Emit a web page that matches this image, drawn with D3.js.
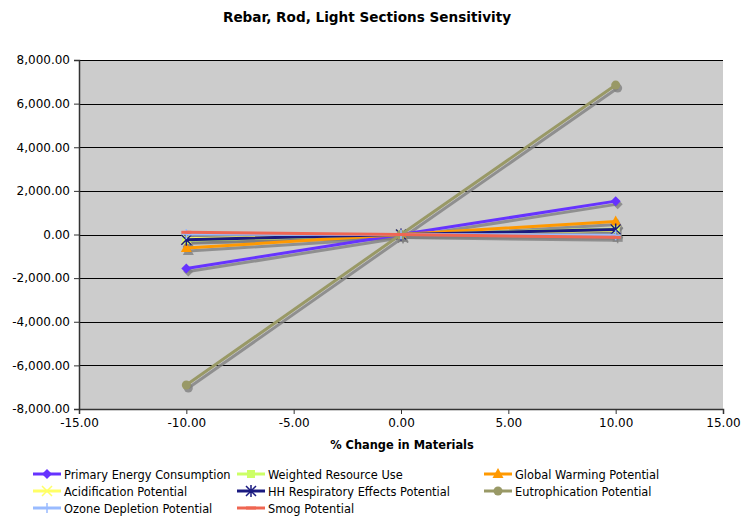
<!DOCTYPE html>
<html>
<head>
<meta charset="utf-8">
<script src="https://cdn.jsdelivr.net/npm/d3@7"></script>
<style>
  body { margin: 0; background: #fff; }
  svg { display: block; font-family: "DejaVu Sans", Verdana, sans-serif; }
</style>
</head>
<body>
<svg id="chart" width="741" height="517"></svg>
<script>
// Sensitivity of each impact category to a change in materials
const pctChange = [-10, 0, 10];
const seriesNames = [
  "Primary Energy Consumption", "Weighted Resource Use", "Global Warming Potential",
  "Acidification Potential", "HH Respiratory Effects Potential", "Eutrophication Potential",
  "Ozone Depletion Potential", "Smog Potential"
];
const primaryEnergy   = [-1560, 0, 1530];
const weightedResource = [-260, 0, 250];
const globalWarming   = [-620, 0, 600];
const acidification   = [-200, 0, 200];
const hhRespiratory   = [-240, 0, 230];
const eutrophication  = [-6900, 0, 6850];
const ozoneDepletion  = [20, 0, -30];
const smog            = [100, 0, -130];
const xTicks = [-15, -10, -5, 0, 5, 10, 15];
const yTicks = [-8000, -6000, -4000, -2000, 0, 2000, 4000, 6000, 8000];

const seriesValues = [primaryEnergy, weightedResource, globalWarming, acidification,
  hhRespiratory, eutrophication, ozoneDepletion, smog];
const colors = ["#6633ff", "#ccff66", "#ff9900", "#ffff66", "#1a1a80", "#999966", "#99bbff", "#ef6652"];
const markers = ["diamond", "square", "triangle", "x", "star", "circle", "plus", "dash"];

const FONT = "'DejaVu Sans', Verdana, sans-serif";
const svg = d3.select("#chart");
const plot = { left: 79, right: 723, top: 60, bottom: 409 };

const x = d3.scaleLinear().domain([-15, 15]).range([plot.left, plot.right]);
const y = d3.scaleLinear().domain([-8000, 8000]).range([plot.bottom, plot.top]);

// Title
svg.append("text").attr("x", 367).attr("y", 22).attr("text-anchor", "middle")
  .attr("font-size", 13.6).attr("font-weight", "bold").text("Rebar, Rod, Light Sections Sensitivity");

// Plot background
svg.append("rect").attr("x", plot.left).attr("y", plot.top)
  .attr("width", plot.right - plot.left).attr("height", plot.bottom - plot.top)
  .attr("fill", "#cccccc");

// Horizontal gridlines
svg.append("g").selectAll("line").data(yTicks).join("line")
  .attr("x1", plot.left).attr("x2", plot.right)
  .attr("y1", d => Math.round(y(d)) + 0.5).attr("y2", d => Math.round(y(d)) + 0.5)
  .attr("stroke", "#000").attr("stroke-width", 1);

// Axes (plain hyphen for negatives)
const base = d3.format(",.2f");
const fmt = d => (d < 0 ? "-" : "") + base(Math.abs(d));
const yAxis = svg.append("g").attr("transform", `translate(${plot.left},0)`)
  .call(d3.axisLeft(y).tickValues(yTicks).tickFormat(fmt).tickSize(5).tickPadding(4));
const xAxis = svg.append("g").attr("transform", `translate(0,${plot.bottom})`)
  .call(d3.axisBottom(x).tickValues(xTicks).tickFormat(fmt).tickSize(5).tickPadding(4));
[xAxis, yAxis].forEach(a => {
  a.select(".domain").attr("stroke", "#333").attr("stroke-width", 1.5);
  a.selectAll(".tick line").attr("stroke", "#333");
  a.selectAll("text").attr("font-size", 12).attr("fill", "#000").attr("font-family", FONT);
});

svg.append("text").attr("x", 402).attr("y", 449).attr("text-anchor", "middle")
  .attr("font-size", 11.4).attr("font-weight", "bold").text("% Change in Materials");

// Marker drawing
function drawMarker(g, type, cx, cy, color) {
  const s = 5;
  switch (type) {
    case "diamond":
      g.append("path").attr("d", `M${cx},${cy - s}L${cx + s},${cy}L${cx},${cy + s}L${cx - s},${cy}Z`).attr("fill", color);
      break;
    case "square":
      g.append("rect").attr("x", cx - 4).attr("y", cy - 4).attr("width", 8).attr("height", 8).attr("fill", color);
      break;
    case "triangle":
      g.append("path").attr("d", `M${cx},${cy - 6}L${cx + 5.5},${cy + 4}L${cx - 5.5},${cy + 4}Z`).attr("fill", color);
      break;
    case "circle":
      g.append("circle").attr("cx", cx).attr("cy", cy).attr("r", 4.5).attr("fill", color);
      break;
    case "x":
      g.append("path").attr("d", `M${cx - 5},${cy - 5}L${cx + 5},${cy + 5}M${cx - 5},${cy + 5}L${cx + 5},${cy - 5}`)
        .attr("stroke", color).attr("stroke-width", 1.5);
      break;
    case "star":
      g.append("path").attr("d", `M${cx - 5},${cy - 5}L${cx + 5},${cy + 5}M${cx - 5},${cy + 5}L${cx + 5},${cy - 5}M${cx},${cy - 6}L${cx},${cy + 6}`)
        .attr("stroke", color).attr("stroke-width", 1.5);
      break;
    case "plus":
      g.append("path").attr("d", `M${cx - 5},${cy}L${cx + 5},${cy}M${cx},${cy - 5}L${cx},${cy + 5}`)
        .attr("stroke", color).attr("stroke-width", 1.5);
      break;
    case "dash":
      g.append("path").attr("d", `M${cx - 5},${cy}L${cx + 5},${cy}`)
        .attr("stroke", color).attr("stroke-width", 3);
      break;
  }
}

const line = d3.line().x(d => x(d[0])).y(d => y(d[1]));
const seriesG = svg.append("g");

seriesValues.forEach((vals, i) => {
  const pts = pctChange.map((p, j) => [p, vals[j]]);
  // soft drop shadow
  seriesG.append("path").datum(pts).attr("d", line)
    .attr("transform", "translate(2,3)")
    .attr("fill", "none").attr("stroke", "#7f7f7f").attr("stroke-opacity", 0.8).attr("stroke-width", 3);
  const shadowG = seriesG.append("g").attr("transform", "translate(2,3)").attr("opacity", 0.8);
  pts.forEach(p => drawMarker(shadowG, markers[i], x(p[0]), y(p[1]), "#7f7f7f"));
});
seriesValues.forEach((vals, i) => {
  const pts = pctChange.map((p, j) => [p, vals[j]]);
  seriesG.append("path").datum(pts).attr("d", line)
    .attr("fill", "none").attr("stroke", colors[i]).attr("stroke-width", 3);
  const mg = seriesG.append("g");
  pts.forEach(p => drawMarker(mg, markers[i], x(p[0]), y(p[1]), colors[i]));
});

// Legend
const legendCols = [33, 237, 484];
const legendRows = [474, 491, 508];
seriesNames.forEach((name, i) => {
  const cx = legendCols[i % 3], cy = legendRows[Math.floor(i / 3)];
  const g = svg.append("g");
  g.append("line").attr("x1", cx).attr("x2", cx + 28).attr("y1", cy).attr("y2", cy)
    .attr("stroke", colors[i]).attr("stroke-width", 3);
  drawMarker(g, markers[i], cx + 14, cy, colors[i]);
  g.append("text").attr("x", cx + 31).attr("y", cy + 4.5).attr("font-size", 11.4).text(name);
});
</script>
</body>
</html>
